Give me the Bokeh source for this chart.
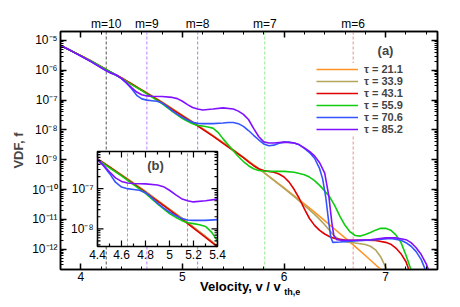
import numpy as np
from bokeh.plotting import figure
from bokeh.models import (Range1d, LogScale, LinearAxis, LogAxis, FixedTicker,
                          CustomJSTickFormatter, Span, Label)
from bokeh.core.properties import value
from bokeh.embed import file_html
from bokeh.resources import INLINE

# ---------------- data (log10 of VDF) ----------------
tau_labels = ["\u03c4 = 21.1", "\u03c4 = 33.9", "\u03c4 = 43.1", "\u03c4 = 55.9", "\u03c4 = 70.6", "\u03c4 = 85.2"]

v_t21 = [3.8, 3.9, 4.0, 4.1, 4.2, 4.3, 4.4, 4.5, 4.6, 4.7, 4.8, 4.9, 5.0, 5.1, 5.2, 5.3, 5.4, 5.5, 5.6,
         5.7, 5.8, 5.9, 6.0, 6.1, 6.2, 6.3, 6.4, 6.5, 6.6, 6.7, 6.8, 6.9, 7.0]
lg_t21 = [-5.17, -5.34, -5.51, -5.69, -5.88, -6.07, -6.26, -6.46, -6.66, -6.86, -7.07, -7.29, -7.51, -7.73,
          -7.96, -8.19, -8.43, -8.67, -8.92, -9.17, -9.42, -9.68, -9.94, -10.21, -10.48, -10.76, -11.04,
          -11.33, -11.62, -11.91, -12.21, -12.52, -12.82]

v_t34 = [3.8, 3.9, 4.0, 4.1, 4.2, 4.3, 4.4, 4.5, 4.6, 4.7, 4.8, 4.9, 5.0, 5.1, 5.2, 5.3, 5.4, 5.5, 5.6,
         5.7, 5.8, 5.9, 6.0, 6.1, 6.2, 6.3, 6.35, 6.4, 6.45, 6.5, 6.55, 6.6, 6.7, 6.8, 6.85, 6.9, 6.95,
         7.0, 7.03]
lg_t34 = [-5.17, -5.34, -5.51, -5.69, -5.88, -6.07, -6.26, -6.46, -6.66, -6.86, -7.07, -7.29, -7.51, -7.73,
          -7.96, -8.19, -8.43, -8.67, -8.92, -9.17, -9.42, -9.69, -9.96, -10.24, -10.53, -10.83, -11.0,
          -11.18, -11.38, -11.57, -11.69, -11.75, -11.79, -11.84, -11.9, -12.02, -12.25, -12.6, -12.85]

v_t43 = [3.8, 3.9, 4.0, 4.1, 4.2, 4.3, 4.4, 4.5, 4.6, 4.7, 4.8, 4.9, 5.0, 5.1, 5.2, 5.3, 5.4, 5.5, 5.6,
         5.65, 5.7, 5.75, 5.8, 5.85, 5.9, 5.95, 6.0, 6.05, 6.1, 6.15, 6.2, 6.25, 6.3, 6.35, 6.4, 6.45,
         6.5, 6.6, 6.7, 6.8, 6.9, 7.0, 7.05, 7.1, 7.15, 7.2, 7.24]
lg_t43 = [-5.17, -5.34, -5.51, -5.69, -5.88, -6.07, -6.26, -6.46, -6.67, -6.88, -7.09, -7.31, -7.53, -7.75,
          -7.98, -8.21, -8.45, -8.69, -8.93, -9.07, -9.2, -9.3, -9.36, -9.39, -9.42, -9.48, -9.58, -9.75,
          -10.0, -10.3, -10.65, -10.97, -11.2, -11.37, -11.49, -11.58, -11.64, -11.69, -11.7, -11.7,
          -11.71, -11.77, -11.83, -11.96, -12.15, -12.42, -12.8]

v_t56 = [3.8, 3.9, 4.0, 4.1, 4.2, 4.3, 4.4, 4.5, 4.6, 4.7, 4.8, 4.9, 5.0, 5.05, 5.1, 5.15, 5.2, 5.25,
         5.3, 5.35, 5.4, 5.45, 5.5, 5.55, 5.6, 5.65, 5.7, 5.75, 5.8, 5.9, 6.0, 6.1, 6.2, 6.25, 6.3, 6.35,
         6.4, 6.45, 6.5, 6.55, 6.6, 6.65, 6.7, 6.75, 6.8, 6.85, 6.9, 6.95, 7.0, 7.05, 7.1, 7.15, 7.2,
         7.23, 7.26]
lg_t56 = [-5.17, -5.34, -5.51, -5.69, -5.88, -6.07, -6.27, -6.48, -6.68, -6.9, -7.12, -7.38, -7.62, -7.71,
          -7.79, -7.85, -7.87, -7.9, -7.94, -8.08, -8.3, -8.5, -8.7, -8.89, -9.06, -9.2, -9.3, -9.36,
          -9.38, -9.39, -9.39, -9.42, -9.5, -9.58, -9.7, -9.86, -10.05, -10.25, -10.55, -10.9, -11.2,
          -11.42, -11.54, -11.56, -11.51, -11.44, -11.36, -11.3, -11.3, -11.36, -11.52, -11.77, -12.2,
          -12.5, -12.8]

v_t71 = [3.8, 3.9, 4.0, 4.1, 4.2, 4.25, 4.3, 4.35, 4.4, 4.45, 4.5, 4.55, 4.6, 4.65, 4.7, 4.75, 4.8,
         4.85, 4.9, 4.95, 5.0, 5.05, 5.1, 5.15, 5.2, 5.3, 5.4, 5.45, 5.5, 5.55, 5.6, 5.65, 5.7, 5.75,
         5.8, 5.85, 5.9, 5.95, 6.0, 6.05, 6.1, 6.15, 6.2, 6.25, 6.3, 6.35, 6.38, 6.41, 6.44, 6.46, 6.48,
         6.55, 6.7, 6.9, 7.05, 7.15, 7.2, 7.25, 7.3, 7.35, 7.38, 7.41]
lg_t71 = [-5.17, -5.34, -5.52, -5.71, -5.91, -6.01, -6.1, -6.17, -6.28, -6.43, -6.62, -6.84, -6.96, -7.0,
          -7.02, -7.04, -7.1, -7.22, -7.36, -7.48, -7.58, -7.67, -7.74, -7.78, -7.79, -7.79, -7.77,
          -7.75, -7.75, -7.79, -7.88, -8.02, -8.18, -8.33, -8.47, -8.53, -8.51, -8.45, -8.41, -8.41,
          -8.44, -8.5, -8.62, -8.76, -8.95, -9.3, -9.65, -10.25, -11.1, -11.6, -11.77, -11.76, -11.72,
          -11.68, -11.64, -11.7, -11.78, -11.9, -12.08, -12.35, -12.6, -12.85]

v_t85 = [3.8, 3.9, 4.0, 4.1, 4.2, 4.25, 4.3, 4.35, 4.4, 4.45, 4.5, 4.55, 4.6, 4.65, 4.7, 4.8, 4.9,
         4.95, 5.0, 5.05, 5.1, 5.15, 5.2, 5.3, 5.4, 5.5, 5.55, 5.6, 5.65, 5.7, 5.75, 5.8, 5.85, 5.9,
         6.0, 6.1, 6.15, 6.2, 6.25, 6.3, 6.35, 6.4, 6.44, 6.47, 6.49, 6.52, 6.58, 6.7, 6.85, 7.0, 7.1,
         7.2, 7.25, 7.3, 7.35, 7.4, 7.44]
lg_t85 = [-5.17, -5.34, -5.52, -5.71, -5.92, -6.02, -6.1, -6.16, -6.27, -6.42, -6.58, -6.73, -6.82, -6.86,
          -6.87, -6.88, -6.91, -6.95, -7.04, -7.15, -7.25, -7.3, -7.33, -7.3, -7.26, -7.3, -7.37, -7.48,
          -7.65, -7.95, -8.22, -8.4, -8.44, -8.44, -8.41, -8.44, -8.5, -8.6, -8.72, -8.87, -9.1, -9.45,
          -10.2, -11.1, -11.55, -11.68, -11.7, -11.7, -11.68, -11.62, -11.62, -11.68, -11.78, -11.95,
          -12.18, -12.5, -12.85]

# resonance velocities (top labels)
m_labels = ["m=10", "m=9", "m=8", "m=7", "m=6"]
m_vel = [4.25, 4.65, 5.15, 5.81, 6.68]

# tick labels
x_major = [4, 5, 6, 7]
x_minor = [3.8, 4.2, 4.4, 4.6, 4.8, 5.2, 5.4, 5.6, 5.8, 6.2, 6.4, 6.6, 6.8, 7.2, 7.4]
y_major = [1e-12, 1e-11, 1e-10, 1e-9, 1e-8, 1e-7, 1e-6, 1e-5]
inset_x_major = [4.4, 4.6, 4.8, 5.0, 5.2, 5.4]
inset_x_labels = ["4.4", "4.6", "4.8", "5", "5.2", "5.4"]
inset_x_minor = [4.5, 4.7, 4.9, 5.1, 5.3]
inset_y_major = [1e-7, 1e-8]
inset_y_labels = ["10\u207b\u2077", "10\u207b\u2078"]
x_title = "Velocity, v / v"
x_title_sub = "th,e"

# ---------------- styling ----------------
colors = ["#FF9326", "#B3A55C", "#E00000", "#10CC10", "#3355FF", "#8010FF"]
m_colors = ["#555555", "#C080FF", "#8C8CFF", "#90E890", "#E89090"]
FONT = "Liberation Sans"

W, H = 452, 299
BL, BR, BT, BB = 60, 15, 31, 30
FW, FH = W - BL - BR, H - BT - BB

series = [(v_t21, lg_t21), (v_t34, lg_t34), (v_t43, lg_t43),
          (v_t56, lg_t56), (v_t71, lg_t71), (v_t85, lg_t85)]

p = figure(width=W, height=H, x_range=(3.8, 7.51), y_range=(10 ** -12.68, 10 ** -4.70),
           y_axis_type="log", output_backend="svg", toolbar_location=None,
           min_border_left=BL, min_border_right=BR, min_border_top=BT, min_border_bottom=BB)
p.background_fill_color = "white"
p.border_fill_color = "white"
p.outline_line_color = "black"
p.outline_line_width = 1.5
p.xgrid.visible = False
p.ygrid.visible = False

sup_code = """
const m = {"-":"\u207b","0":"\u2070","1":"\u00b9","2":"\u00b2","3":"\u00b3","4":"\u2074",
           "5":"\u2075","6":"\u2076","7":"\u2077","8":"\u2078","9":"\u2079"};
const e = Math.round(Math.log10(tick));
return "10" + String(e).split("").map(c => m[c]).join("");
"""
y_minor = [k * 10.0 ** e for e in range(-13, -4) for k in range(2, 10)
           if 10 ** -12.68 <= k * 10.0 ** e <= 10 ** -4.70]
xt = FixedTicker(ticks=x_major, minor_ticks=x_minor)
yt = FixedTicker(ticks=y_major, minor_ticks=y_minor)
xax = p.xaxis[0]
yax = p.yaxis[0]
xax.ticker = xt
yax.ticker = yt
yax.formatter = CustomJSTickFormatter(code=sup_code)
empty = CustomJSTickFormatter(code="return '';")
top_ax = LinearAxis(ticker=xt, formatter=empty)
right_ax = LogAxis(ticker=yt, formatter=empty)
p.add_layout(top_ax, "above")
p.add_layout(right_ax, "right")

for ax in [xax, yax, top_ax, right_ax]:
    ax.major_tick_in = 6
    ax.major_tick_out = 0
    ax.minor_tick_in = 3
    ax.minor_tick_out = 0
    ax.axis_line_width = 1.5
    ax.major_tick_line_width = 1.5
    ax.axis_line_color = "black"
    ax.major_tick_line_color = "black"
    ax.minor_tick_line_color = "black"
    ax.major_label_text_font = FONT
    ax.major_label_text_font_size = "12px"
    ax.major_label_text_color = "black"
    ax.major_label_standoff = 3
for ax in [top_ax, right_ax]:
    ax.major_label_standoff = 0
    ax.major_label_text_font_size = "1px"
xax.major_label_standoff = 2

yax.axis_label = "VDF, f"
yax.axis_label_text_font = FONT
yax.axis_label_text_font_style = "bold"
yax.axis_label_text_font_size = "13px"
yax.axis_label_standoff = 3


def text_axis(ticks, labels, side, size, bold, standoff):
    ax = LinearAxis(ticker=FixedTicker(ticks=ticks),
                    major_label_overrides={t: s for t, s in zip(ticks, labels)})
    ax.axis_line_color = None
    ax.major_tick_line_color = None
    ax.minor_tick_line_color = None
    ax.major_tick_in = 0
    ax.major_tick_out = 0
    ax.minor_tick_in = 0
    ax.minor_tick_out = 0
    ax.major_label_text_font = FONT
    ax.major_label_text_font_size = size
    ax.major_label_text_font_style = "bold" if bold else "normal"
    ax.major_label_text_color = "black"
    ax.major_label_standoff = standoff
    p.add_layout(ax, side)
    return ax


# m=... labels above the frame
text_axis(m_vel, m_labels, "above", "12px", False, 1)
# x-axis title with subscript (positions of the title along the axis)
text_axis([5.57], [x_title], "below", "13px", True, -5)
text_axis([6.08], [x_title_sub], "below", "9px", True, -10)

# dashed resonance lines (behind everything)
for v, c in zip(m_vel, m_colors):
    p.add_layout(Span(location=v, dimension="height", line_color=c, line_dash="3 2",
                      line_width=1, level="underlay"))

# main curves
for (vv, lg), c, lab in zip(series, colors, tau_labels):
    p.line(vv, 10 ** np.array(lg), line_color=c, line_width=1.6, legend_label=lab)

# legend
lg_ = p.legend[0]
lg_.location = (256, 134)
lg_.background_fill_color = "white"
lg_.background_fill_alpha = 1.0
lg_.border_line_color = None
lg_.padding = 4
lg_.margin = 0
lg_.spacing = 0
lg_.glyph_width = 42
lg_.glyph_height = 12
lg_.label_height = 12
lg_.label_standoff = 6
lg_.label_text_font = FONT
lg_.label_text_font_style = "bold"
lg_.label_text_font_size = "11px"

p.add_layout(Label(x=325, y=219, x_units="screen", y_units="screen", text="(a)",
                   text_align="center", text_baseline="middle", text_font=FONT,
                   text_font_style="bold", text_font_size="13px",
                   background_fill_color="white"))

# ---------------- inset (b) ----------------
ix_lo, ix_hi = 4.4, 5.4
iy_lo, iy_hi = -8.44, -6.075          # log10 limits of inset
fl, fr, fb, ft = 0.0981, 0.4164, 0.0966, 0.4958   # inset box as frame fractions
sx = (ix_hi - ix_lo) / (fr - fl)
sy = (iy_hi - iy_lo) / (ft - fb)
p.extra_x_ranges = {"inset": Range1d(ix_lo - fl * sx, ix_lo - fl * sx + sx)}
p.extra_y_ranges = {"inset": Range1d(10 ** (iy_lo - fb * sy), 10 ** (iy_lo - fb * sy + sy))}
p.extra_y_scales = {"inset": LogScale()}
IR = dict(x_range_name="inset", y_range_name="inset")
ylo, yhi = 10 ** iy_lo, 10 ** iy_hi

p.quad(left=ix_lo, right=ix_hi, bottom=ylo, top=yhi, fill_color="white", line_color=None, **IR)
for v, c in zip(m_vel, m_colors):
    if ix_lo <= v <= ix_hi:
        p.segment(x0=v, x1=v, y0=ylo, y1=yhi, line_color=c, line_dash="3 2", line_width=1, **IR)
for (vv, lg), c in zip(series, colors):
    vv = np.array(vv)
    lg = np.array(lg)
    k = (vv >= ix_lo - 1e-9) & (vv <= ix_hi + 1e-9)
    p.line(vv[k], 10 ** lg[k], line_color=c, line_width=1.6, **IR)
p.quad(left=ix_lo, right=ix_hi, bottom=ylo, top=yhi, fill_color=None, line_color="black",
       line_width=1.5, **IR)

dxp = sx / FW        # data x per pixel (inset)
dyp = sy / FH        # decades per pixel (inset)
iy_minor = [k * 10.0 ** e for e in (-9, -8, -7) for k in range(2, 10)
            if ylo <= k * 10.0 ** e <= yhi]
for ticks, L in ((inset_x_major, 6), (inset_x_minor, 3)):
    n = len(ticks)
    p.segment(x0=ticks, x1=ticks, y0=[ylo] * n, y1=[ylo * 10 ** (L * dyp)] * n,
              line_color="black", line_width=1.2, **IR)
    p.segment(x0=ticks, x1=ticks, y0=[yhi] * n, y1=[yhi / 10 ** (L * dyp)] * n,
              line_color="black", line_width=1.2, **IR)
for ticks, L in ((inset_y_major, 6), (iy_minor, 3)):
    n = len(ticks)
    p.segment(x0=[ix_lo] * n, x1=[ix_lo + L * dxp] * n, y0=ticks, y1=ticks,
              line_color="black", line_width=1.2, **IR)
    p.segment(x0=[ix_hi] * n, x1=[ix_hi - L * dxp] * n, y0=ticks, y1=ticks,
              line_color="black", line_width=1.2, **IR)

p.text(x=inset_x_major, y=[ylo] * len(inset_x_major), text=inset_x_labels, y_offset=3,
       text_align="center", text_baseline="top", text_font=value(FONT),
       text_font_size="12px", text_color="black", **IR)
p.text(x=[ix_lo] * 2, y=inset_y_major, text=inset_y_labels, x_offset=-4,
       text_align="right", text_baseline="middle", text_font=value(FONT),
       text_font_size="12px", text_color="black", **IR)
p.add_layout(Label(x=95, y=104, x_units="screen", y_units="screen", text="(b)",
                   text_align="center", text_baseline="middle", text_font=FONT,
                   text_font_style="bold", text_font_size="13px"))

open("out.html", "w").write(file_html(p, INLINE))
